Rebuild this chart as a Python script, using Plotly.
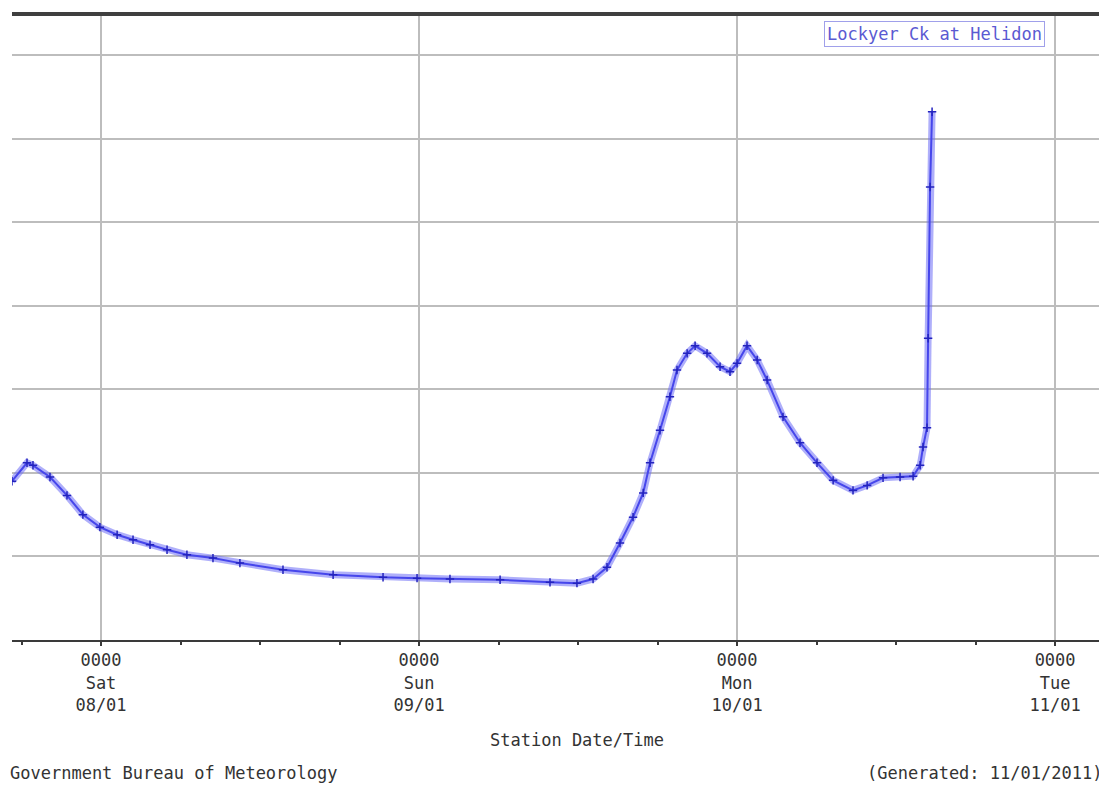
import plotly.graph_objects as go

# Station date/time of each reading (local station time)
times = [
    "2011-01-07 17:17", "2011-01-07 18:25", "2011-01-07 18:52", "2011-01-07 20:09",
    "2011-01-07 21:26", "2011-01-07 22:38", "2011-01-07 23:55", "2011-01-08 01:13",
    "2011-01-08 02:25", "2011-01-08 03:42", "2011-01-08 04:59", "2011-01-08 06:29",
    "2011-01-08 08:27", "2011-01-08 10:29", "2011-01-08 13:44", "2011-01-08 17:31",
    "2011-01-08 21:17", "2011-01-08 23:51", "2011-01-09 02:20", "2011-01-09 06:07",
    "2011-01-09 09:53", "2011-01-09 11:55", "2011-01-09 13:08", "2011-01-09 14:11",
    "2011-01-09 15:10", "2011-01-09 16:09", "2011-01-09 16:55", "2011-01-09 17:26",
    "2011-01-09 18:11", "2011-01-09 18:56", "2011-01-09 19:28", "2011-01-09 20:14",
    "2011-01-09 20:50", "2011-01-09 21:44", "2011-01-09 22:43", "2011-01-09 23:28",
    "2011-01-10 00:00", "2011-01-10 00:45", "2011-01-10 01:31", "2011-01-10 02:16",
    "2011-01-10 03:28", "2011-01-10 04:45", "2011-01-10 06:02", "2011-01-10 07:15",
    "2011-01-10 08:45", "2011-01-10 09:49", "2011-01-10 11:01", "2011-01-10 12:18",
    "2011-01-10 13:17", "2011-01-10 13:49", "2011-01-10 14:02", "2011-01-10 14:20",
    "2011-01-10 14:25", "2011-01-10 14:34", "2011-01-10 14:43",
]
# River level (relative units, one grid division per unit)
levels = [
    1.90, 2.12, 2.09, 1.95, 1.73, 1.50, 1.35, 1.26,
    1.20, 1.14, 1.08, 1.02, 0.98, 0.92, 0.84, 0.78,
    0.75, 0.74, 0.73, 0.72, 0.69, 0.68, 0.73, 0.87,
    1.16, 1.47, 1.76, 2.12, 2.51, 2.91, 3.23, 3.43,
    3.52, 3.43, 3.27, 3.21, 3.31, 3.52, 3.35, 3.11,
    2.67, 2.36, 2.12, 1.91, 1.79, 1.85, 1.94, 1.95,
    1.96, 2.09, 2.31, 2.54, 3.61, 5.42, 6.32,
]

tick_vals = ["2011-01-08 00:00", "2011-01-09 00:00", "2011-01-10 00:00", "2011-01-11 00:00"]
tick_text = ["0000<br>Sat<br>08/01", "0000<br>Sun<br>09/01", "0000<br>Mon<br>10/01", "0000<br>Tue<br>11/01"]
x_range = ["2011-01-07 17:17", "2011-01-11 03:55"]

station_title = "Lockyer Ck at Helidon"
x_title = "Station Date/Time"
footer_left = "Government Bureau of Meteorology"
footer_right = "(Generated: 11/01/2011)"

mono = "DejaVu Sans Mono"

fig = go.Figure()
# soft halo of the trace
fig.add_trace(go.Scatter(
    x=times, y=levels, mode="lines",
    line=dict(color="rgba(110,110,245,0.55)", width=7),
    hoverinfo="skip", showlegend=False,
))
fig.add_trace(go.Scatter(
    x=times, y=levels, mode="lines+markers",
    line=dict(color="rgb(70,70,235)", width=2),
    marker=dict(symbol="cross-thin", size=6, line=dict(color="rgb(35,35,190)", width=1.5)),
    showlegend=False,
))

fig.update_layout(
    width=1099, height=783,
    margin=dict(l=4, r=0, t=6, b=151),
    paper_bgcolor="white", plot_bgcolor="white",
    font=dict(family=mono, size=17, color="#333333"),
    xaxis=dict(
        type="date", range=x_range,
        tickmode="array", tickvals=tick_vals, ticktext=tick_text,
        showgrid=True, gridcolor="#bdbdbd", gridwidth=2,
        showline=True, linecolor="#3a3a3a", linewidth=2,
        ticks="outside", ticklen=4, tickcolor="#3a3a3a", tickwidth=2,
        tickfont=dict(family=mono, size=17, color="#333333"),
        minor=dict(dtick=6 * 3600 * 1000, ticks="outside", ticklen=3,
                   tickcolor="#3a3a3a", tickwidth=2, showgrid=False),
        zeroline=False, fixedrange=True,
    ),
    yaxis=dict(
        range=[0, 7.49], dtick=1, tick0=0,
        showgrid=True, gridcolor="#bdbdbd", gridwidth=2,
        showticklabels=False, ticks="", zeroline=False, showline=False,
    ),
    shapes=[dict(type="line", xref="paper", yref="paper", x0=0, x1=1, y0=1, y1=1,
                 line=dict(color="#3f3f3f", width=4))],
    annotations=[
        dict(text=station_title, xref="paper", yref="paper", x=0.742, y=0.968,
             xanchor="left", yanchor="middle", showarrow=False,
             font=dict(family=mono, size=17, color="#5a5ad2"),
             bordercolor="#a0a0ea", borderwidth=1, borderpad=2, bgcolor="white"),
        dict(text=x_title, xref="paper", yref="paper", x=0.516, y=-0.16,
             xanchor="center", yanchor="middle", showarrow=False,
             font=dict(family=mono, size=17, color="#333333")),
        dict(text=footer_left, xref="paper", yref="paper", x=-0.0036, y=-0.2125,
             xanchor="left", yanchor="middle", showarrow=False,
             font=dict(family=mono, size=17, color="#333333")),
        dict(text=footer_right, xref="paper", yref="paper", x=0.997, y=-0.2125,
             xanchor="right", yanchor="middle", showarrow=False,
             font=dict(family=mono, size=17, color="#333333")),
    ],
)

fig.write_html("out.html")
